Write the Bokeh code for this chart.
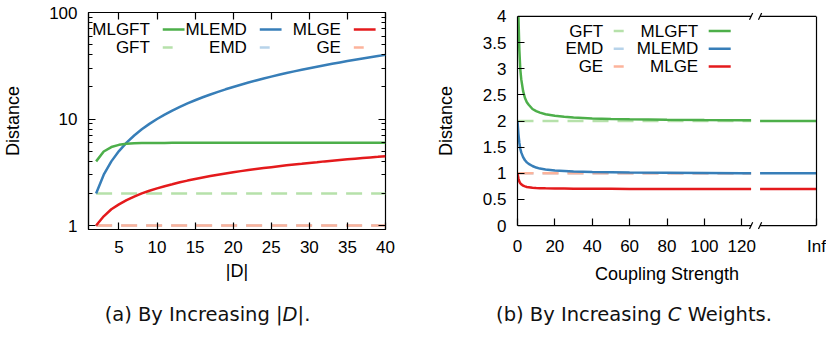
import math
from bokeh.plotting import figure
from bokeh.models import Range1d, FixedTicker, LinearAxis, LogAxis, Label, Div, NumeralTickFormatter
from bokeh.layouts import row, column
from bokeh.embed import file_html
from bokeh.resources import INLINE

NAN = float("nan")

# ---------------- data: (a) by increasing |D| ----------------
D = [2, 3, 4, 5, 6, 7, 8, 9, 10, 11, 12, 13, 14, 15, 16, 17, 18, 19, 20, 21,
     22, 23, 24, 25, 26, 27, 28, 29, 30, 31, 32, 33, 34, 35, 36, 37, 38, 39, 40]
MLGFT_D = [4.0, 4.95, 5.45, 5.72, 5.85, 5.91, 5.94, 5.95, 5.96, 5.96, 5.97, 5.97, 5.97,
           5.98, 5.98, 5.98, 5.98, 5.99, 5.99, 5.99, 5.99, 5.99, 6.0, 6.0, 6.0, 6.0,
           6.0, 6.0, 6.0, 6.0, 6.0, 6.0, 6.0, 6.0, 6.0, 6.0, 6.0, 6.0, 6.0]
MLEMD_D = [2.0, 3.0, 4.0, 5.0, 6.0, 7.0, 8.0, 9.0, 10.0, 11.0, 12.0, 13.0, 14.0, 15.0,
           16.0, 17.0, 18.0, 19.0, 20.0, 21.0, 22.0, 23.0, 24.0, 25.0, 26.0, 27.0, 28.0,
           29.0, 30.0, 31.0, 32.0, 33.0, 34.0, 35.0, 36.0, 37.0, 38.0, 39.0, 40.0]
MLGE_D = [1.0, 1.22, 1.42, 1.58, 1.73, 1.87, 2.0, 2.12, 2.23, 2.34, 2.44, 2.55, 2.64,
          2.73, 2.82, 2.91, 3.0, 3.08, 3.16, 3.24, 3.32, 3.39, 3.46, 3.53, 3.6, 3.67,
          3.74, 3.8, 3.87, 3.93, 4.0, 4.06, 4.12, 4.18, 4.24, 4.3, 4.36, 4.41, 4.47]
GFT_D_LEVEL = 2.0
EMD_D_LEVEL = 1.0
GE_D_LEVEL = 1.0
D_TICKS = [5, 10, 15, 20, 25, 30, 35, 40]
LOG_TICKS = [1, 10, 100]
LOG_MINOR = [2, 3, 4, 5, 6, 7, 8, 9, 20, 30, 40, 50, 60, 70, 80, 90]

# ---------------- data: (b) by increasing C weights ----------------
COUPLING = [0, 0.5, 1, 1.5, 2, 3, 4, 5, 6, 8, 10, 12, 15, 20, 25, 30, 40, 50, 60, 80,
            100, 120, 125]
# MLGFT at C=0 lies above the plotted range (off the top of the axis)
MLGFT_C = [NAN, 4.0, 3.35, 2.98, 2.8, 2.57, 2.44, 2.36, 2.31, 2.23, 2.19, 2.16, 2.13,
           2.1, 2.08, 2.065, 2.05, 2.04, 2.033, 2.025, 2.02, 2.016, 2.015]
MLEMD_C = [2.0, 1.75, 1.58, 1.47, 1.4, 1.31, 1.25, 1.21, 1.18, 1.14, 1.11, 1.09, 1.075,
           1.055, 1.045, 1.035, 1.025, 1.02, 1.015, 1.01, 1.005, 1.0, 1.0]
MLGE_C = [1.0, 0.9, 0.84, 0.81, 0.79, 0.765, 0.75, 0.74, 0.735, 0.725, 0.72, 0.717,
          0.713, 0.71, 0.708, 0.706, 0.704, 0.703, 0.702, 0.701, 0.7, 0.7, 0.7]
MLGFT_INF, MLEMD_INF, MLGE_INF = 2.0, 1.0, 0.7
GFT_C_LEVEL, EMD_C_LEVEL, GE_C_LEVEL = 2.0, 1.0, 1.0
C_TICKS = [0, 20, 40, 60, 80, 100, 120]
INF_LABEL = "Inf"
LIN_TICKS = [0, 0.5, 1, 1.5, 2, 2.5, 3, 3.5, 4]

# ---------------- styles ----------------
FONT = "Liberation Sans"
FS = "17px"
FS_AXIS = "18px"
C_GREEN, C_BLUE, C_RED = "#4daf4a", "#377eb8", "#e41a1c"
C_LGREEN, C_LBLUE, C_LRED = "#b6e1aa", "#b7d3ea", "#fcb39b"
LW = 2.5
DASH = "16 9"
BW = 1.2


def style_axis(ax):
    ax.major_label_text_font = FONT
    ax.major_label_text_font_size = FS
    ax.major_label_text_color = "black"
    ax.axis_label_text_font = FONT
    ax.axis_label_text_font_size = FS_AXIS
    ax.axis_label_text_font_style = "normal"
    ax.axis_label_text_color = "black"
    ax.major_tick_line_color = "black"
    ax.minor_tick_line_color = "black"
    ax.major_tick_line_width = BW
    ax.minor_tick_line_width = BW
    ax.axis_line_width = BW
    ax.axis_line_color = "black"
    ax.major_label_standoff = 11


def hide_labels(ax):
    ax.major_label_text_font_size = "1px"
    ax.major_label_text_color = None
    ax.major_label_standoff = 0


# ================= panel (a) =================
YMIN = 10 ** (2 - 217 / 106.5)
p1 = figure(width=420, height=290, x_range=Range1d(1, 40), y_range=Range1d(YMIN, 100),
            y_axis_type="log", output_backend="svg", toolbar_location=None,
            min_border_left=85, min_border_right=35, min_border_top=12, min_border_bottom=61)
p1.xgrid.visible = False
p1.ygrid.visible = False
p1.outline_line_color = "black"
p1.outline_line_width = BW

xa = p1.xaxis[0]
style_axis(xa)
xa.ticker = FixedTicker(ticks=D_TICKS)
xa.major_tick_in, xa.major_tick_out = 7, 0
xa.minor_tick_in, xa.minor_tick_out = 0, 0
xa.axis_label = "|D|"
xa.axis_label_standoff = 5
xa.formatter = NumeralTickFormatter(format="0")

ya = p1.yaxis[0]
style_axis(ya)
ya.ticker = FixedTicker(ticks=LOG_TICKS, minor_ticks=LOG_MINOR)
ya.major_tick_in, ya.major_tick_out = 7, 0
ya.minor_tick_in, ya.minor_tick_out = 4, 0
ya.axis_label = "Distance"
ya.axis_label_standoff = 23
ya.formatter = NumeralTickFormatter(format="0")

top_ax = LinearAxis(ticker=FixedTicker(ticks=D_TICKS))
style_axis(top_ax)
hide_labels(top_ax)
top_ax.major_tick_in, top_ax.major_tick_out = 7, 0
top_ax.minor_tick_in, top_ax.minor_tick_out = 0, 0
top_ax.axis_line_color = None
p1.add_layout(top_ax, "above")

right_ax = LogAxis(ticker=FixedTicker(ticks=LOG_TICKS, minor_ticks=LOG_MINOR))
style_axis(right_ax)
hide_labels(right_ax)
right_ax.major_tick_in, right_ax.major_tick_out = 7, 0
right_ax.minor_tick_in, right_ax.minor_tick_out = 4, 0
right_ax.axis_line_color = None
p1.add_layout(right_ax, "right")

# dashed baselines (under)
p1.line([D[0], D[-1]], [GFT_D_LEVEL] * 2, line_color=C_LGREEN, line_width=LW, line_dash=DASH)
p1.line([D[0], D[-1]], [EMD_D_LEVEL] * 2, line_color=C_LBLUE, line_width=LW, line_dash=DASH)
p1.line([D[0], D[-1]], [GE_D_LEVEL] * 2, line_color=C_LRED, line_width=LW, line_dash=DASH)
# solid curves
p1.line(D, MLGE_D, line_color=C_RED, line_width=LW)
p1.line(D, MLEMD_D, line_color=C_BLUE, line_width=LW)
p1.line(D, MLGFT_D, line_color=C_GREEN, line_width=LW)

# legend of (a): positions in px relative to frame top-left
L_FW, L_FH = 300.0, 217.0


def a_xy(fx, fy):
    x = 1 + fx * (40 - 1) / L_FW
    y = 10 ** (2 - fy * (2 - math.log10(YMIN)) / L_FH)
    return x, y


leg_a = [
    ("MLGFT", 62, 17, C_GREEN, False), ("MLEMD", 160, 17, C_BLUE, False),
    ("MLGE", 255, 17, C_RED, False),
    ("GFT", 62, 35, C_LGREEN, True), ("EMD", 160, 35, C_LBLUE, True),
    ("GE", 255, 35, C_LRED, True),
]
for txt, tx, ty, col, dashed in leg_a:
    x, y = a_xy(tx, ty)
    p1.add_layout(Label(x=x, y=y, text=txt, text_align="right", text_baseline="middle",
                        text_font=FONT, text_font_size=FS, text_color="black"))
    x0, _ = a_xy(tx + 13, ty)
    x1, _ = a_xy(tx + 13 + (10 if dashed else 22), ty)
    p1.line([x0, x1], [y, y], line_color=col, line_width=LW)

# ================= panel (b) =================
R_FW, R_FH = 299.0, 217.0       # px of border box (0..160, 0..4)
PAD = 4.0                       # px of frame padding above/below the border
X_MAX = 160.0
BREAK_LO, BREAK_HI = 125.0, 129.8
INF_POS = 160.0
ypad = PAD * 4 / R_FH

p2 = figure(width=406, height=290, x_range=Range1d(0, X_MAX), y_range=Range1d(-ypad, 4 + ypad),
            output_backend="svg", toolbar_location=None,
            min_border_left=97, min_border_right=10, min_border_top=8, min_border_bottom=57)
p2.xgrid.visible = False
p2.ygrid.visible = False
p2.outline_line_color = None

xb = p2.xaxis[0]
style_axis(xb)
xb.ticker = FixedTicker(ticks=C_TICKS + [INF_POS])
xb.major_label_overrides = {INF_POS: INF_LABEL}
xb.formatter = NumeralTickFormatter(format="0")
xb.major_tick_in, xb.major_tick_out = 7 + int(PAD), -int(PAD)
xb.minor_tick_in, xb.minor_tick_out = 0, 0
xb.major_label_standoff = 11 - int(PAD)
xb.axis_line_color = None
xb.axis_label = "Coupling Strength"
xb.axis_label_standoff = 5

yb = p2.yaxis[0]
style_axis(yb)
yb.bounds = (0, 4)
yb.ticker = FixedTicker(ticks=LIN_TICKS)
yb.formatter = NumeralTickFormatter(format="0.[0]")
yb.major_tick_in, yb.major_tick_out = 7, 0
yb.minor_tick_in, yb.minor_tick_out = 0, 0
yb.axis_label = "Distance"
yb.axis_label_standoff = 24

rb = LinearAxis(bounds=(0, 4), ticker=FixedTicker(ticks=[0, 4]))
style_axis(rb)
hide_labels(rb)
rb.major_tick_in = rb.major_tick_out = rb.minor_tick_in = rb.minor_tick_out = 0
p2.add_layout(rb, "right")

# border with break
p2.segment(x0=[0, BREAK_HI, 0, BREAK_HI], y0=[0, 0, 4, 4],
           x1=[BREAK_LO, X_MAX, BREAK_LO, X_MAX], y1=[0, 0, 4, 4],
           line_color="black", line_width=BW)
dxs = 1.6 * X_MAX / R_FW
dys = 3.5 * 4 / R_FH
sx0, sy0, sx1, sy1 = [], [], [], []
for bx in (BREAK_LO, BREAK_HI):
    for by in (0, 4):
        sx0.append(bx - dxs); sy0.append(by - dys)
        sx1.append(bx + dxs); sy1.append(by + dys)
p2.segment(x0=sx0, y0=sy0, x1=sx1, y1=sy1, line_color="black", line_width=BW)

# dashed baselines
p2.line([COUPLING[0], COUPLING[-1]], [GFT_C_LEVEL] * 2, line_color=C_LGREEN, line_width=LW, line_dash=DASH)
p2.line([COUPLING[0], COUPLING[-1]], [EMD_C_LEVEL] * 2, line_color=C_LBLUE, line_width=LW, line_dash=DASH)
p2.line([COUPLING[0], COUPLING[-1]], [GE_C_LEVEL] * 2, line_color=C_LRED, line_width=LW, line_dash=DASH)
# solid curves
for ys, yinf, col in ((MLGE_C, MLGE_INF, C_RED), (MLEMD_C, MLEMD_INF, C_BLUE),
                      (MLGFT_C, MLGFT_INF, C_GREEN)):
    p2.line(COUPLING, ys, line_color=col, line_width=LW)
    p2.line([BREAK_HI, INF_POS], [yinf, yinf], line_color=col, line_width=LW)


def b_xy(fx, fy):
    return fx * X_MAX / R_FW, 4 - fy * 4 / R_FH


leg_b = [
    ("GFT", 85.7, 15.3, C_LGREEN, True), ("MLGFT", 180.7, 15.3, C_GREEN, False),
    ("EMD", 85.7, 33.7, C_LBLUE, True), ("MLEMD", 180.7, 33.7, C_BLUE, False),
    ("GE", 85.7, 52.0, C_LRED, True), ("MLGE", 180.7, 52.0, C_RED, False),
]
for txt, tx, ty, col, dashed in leg_b:
    x, y = b_xy(tx, ty)
    p2.add_layout(Label(x=x, y=y, text=txt, text_align="right", text_baseline="middle",
                        text_font=FONT, text_font_size=FS, text_color="black"))
    x0, _ = b_xy(tx + 10.5, ty)
    x1, _ = b_xy(tx + 10.5 + (10 if dashed else 22), ty)
    p2.line([x0, x1], [y, y], line_color=col, line_width=LW)

# ================= captions =================
CAP_STYLE = ("text-align:center;font-family:'DejaVu Sans';font-size:19.5px;line-height:22px;"
             "padding-top:14px;position:relative;white-space:nowrap;color:#111;")
d1 = Div(text='<div style="%swidth:420px;left:-2.5px;">(a) By Increasing |<i>D</i>|.</div>' % CAP_STYLE,
         width=420, height=40, margin=0)
d2 = Div(text='<div style="%swidth:406px;left:11px;">(b) By Increasing <i>C</i> Weights.</div>' % CAP_STYLE,
         width=406, height=40, margin=0)

layout = column(row(p1, p2), row(d1, d2))
open("out.html", "w").write(file_html(layout, INLINE))
